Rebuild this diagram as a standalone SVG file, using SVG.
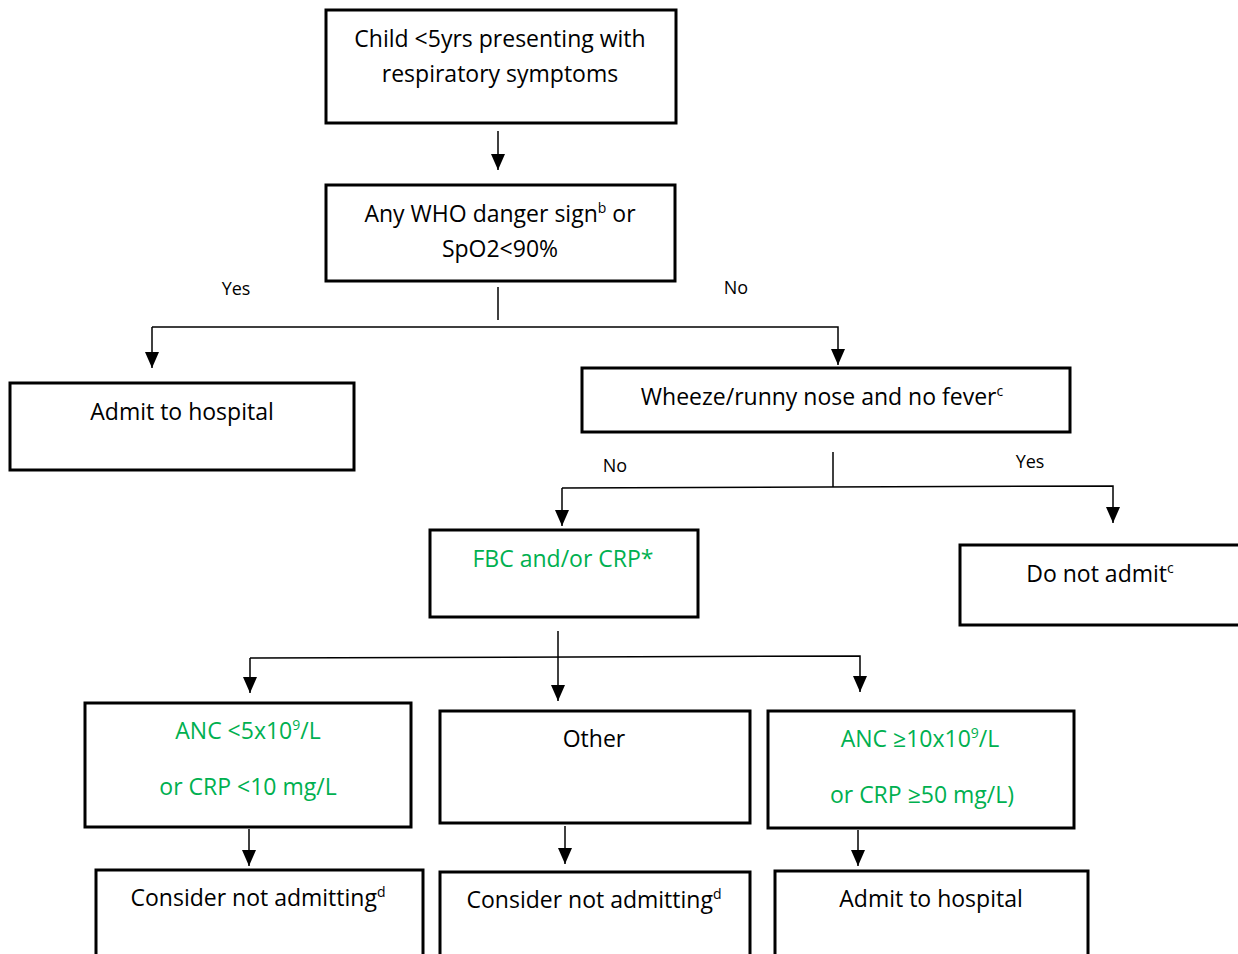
<svg xmlns="http://www.w3.org/2000/svg" width="1238" height="954" viewBox="0 0 1238 954">
<defs>
<marker id="ah" markerWidth="16" markerHeight="14" refX="16" refY="7" orient="auto" markerUnits="userSpaceOnUse" viewBox="0 0 16 14">
<path d="M0,0 L16,7 L0,14 Z" fill="#000"/>
</marker>
<style>
.box{fill:#fff;stroke:#000;stroke-width:3}
.t{font-family:"Open Sans","Liberation Sans",sans-serif;font-size:23px;fill:#000;text-anchor:middle}
.g{fill:#00B050}
.lbl{font-family:"Open Sans","Liberation Sans",sans-serif;font-size:18px;fill:#000;text-anchor:middle}
.ln{fill:none;stroke:#000;stroke-width:1.5}
.sup{font-size:14px}
</style>
</defs>
<rect width="1238" height="954" fill="#fff"/>
<g id="connectors">
<line class="ln" x1="498" y1="131" x2="498" y2="170" marker-end="url(#ah)"/>
<line class="ln" x1="498" y1="287" x2="498" y2="320"/>
<polyline class="ln" points="152,327 838,327 838,365" marker-end="url(#ah)"/>
<line class="ln" x1="152" y1="327" x2="152" y2="368" marker-end="url(#ah)"/>
<line class="ln" x1="833" y1="452" x2="833" y2="487"/>
<polyline class="ln" points="562,488 1113,486 1113,523" marker-end="url(#ah)"/>
<line class="ln" x1="562" y1="488" x2="562" y2="526" marker-end="url(#ah)"/>
<line class="ln" x1="558" y1="631" x2="558" y2="701" marker-end="url(#ah)"/>
<polyline class="ln" points="250,658 860,656 860,692" marker-end="url(#ah)"/>
<line class="ln" x1="250" y1="658" x2="250" y2="693" marker-end="url(#ah)"/>
<line class="ln" x1="249" y1="829" x2="249" y2="866" marker-end="url(#ah)"/>
<line class="ln" x1="565" y1="826" x2="565" y2="864" marker-end="url(#ah)"/>
<line class="ln" x1="858" y1="830" x2="858" y2="866" marker-end="url(#ah)"/>
<text class="lbl" x="236" y="295">Yes</text>
<text class="lbl" x="736" y="294">No</text>
<text class="lbl" x="615" y="472">No</text>
<text class="lbl" x="1030" y="468">Yes</text>
</g>
<g id="n1">
<rect class="box" x="326" y="10" width="350" height="113"/>
<text class="t" x="500" y="47">Child &lt;5yrs presenting with</text>
<text class="t" x="500" y="82">respiratory symptoms</text>
</g>
<g id="n2">
<rect class="box" x="326" y="185" width="349" height="96"/>
<text class="t" x="500" y="222">Any WHO danger sign<tspan class="sup" dy="-9">b</tspan><tspan dy="9"> or</tspan></text>
<text class="t" x="500" y="257">SpO2&lt;90%</text>
</g>
<g id="n3">
<rect class="box" x="10" y="383" width="344" height="87"/>
<text class="t" x="182" y="420">Admit to hospital</text>
</g>
<g id="n4">
<rect class="box" x="582" y="368" width="488" height="64"/>
<text class="t" x="822" y="405">Wheeze/runny nose and no fever<tspan class="sup" dy="-9">c</tspan></text>
</g>
<g id="n5">
<rect class="box" x="430" y="530" width="268" height="87"/>
<text class="t g" x="563" y="567">FBC and/or CRP*</text>
</g>
<g id="n6">
<rect class="box" x="960" y="545" width="290" height="80"/>
<text class="t" x="1100" y="582">Do not admit<tspan class="sup" dy="-9">c</tspan></text>
</g>
<g id="n7">
<rect class="box" x="85" y="703" width="326" height="124"/>
<text class="t g" x="248" y="739">ANC &lt;5x10<tspan class="sup" dy="-9">9</tspan><tspan dy="9">/L</tspan></text>
<text class="t g" x="248" y="795">or CRP &lt;10 mg/L</text>
</g>
<g id="n8">
<rect class="box" x="440" y="711" width="310" height="112"/>
<text class="t" x="594" y="747">Other</text>
</g>
<g id="n9">
<rect class="box" x="768" y="711" width="306" height="117"/>
<text class="t g" x="920" y="747">ANC ≥10x10<tspan class="sup" dy="-9">9</tspan><tspan dy="9">/L</tspan></text>
<text class="t g" x="922" y="803">or CRP ≥50 mg/L)</text>
</g>
<g id="n10">
<rect class="box" x="96" y="870" width="327" height="100"/>
<text class="t" x="258" y="906">Consider not admitting<tspan class="sup" dy="-9">d</tspan></text>
</g>
<g id="n11">
<rect class="box" x="440" y="872" width="310" height="100"/>
<text class="t" x="594" y="908">Consider not admitting<tspan class="sup" dy="-9">d</tspan></text>
</g>
<g id="n12">
<rect class="box" x="775" y="871" width="313" height="100"/>
<text class="t" x="931" y="907">Admit to hospital</text>
</g>
</svg>
